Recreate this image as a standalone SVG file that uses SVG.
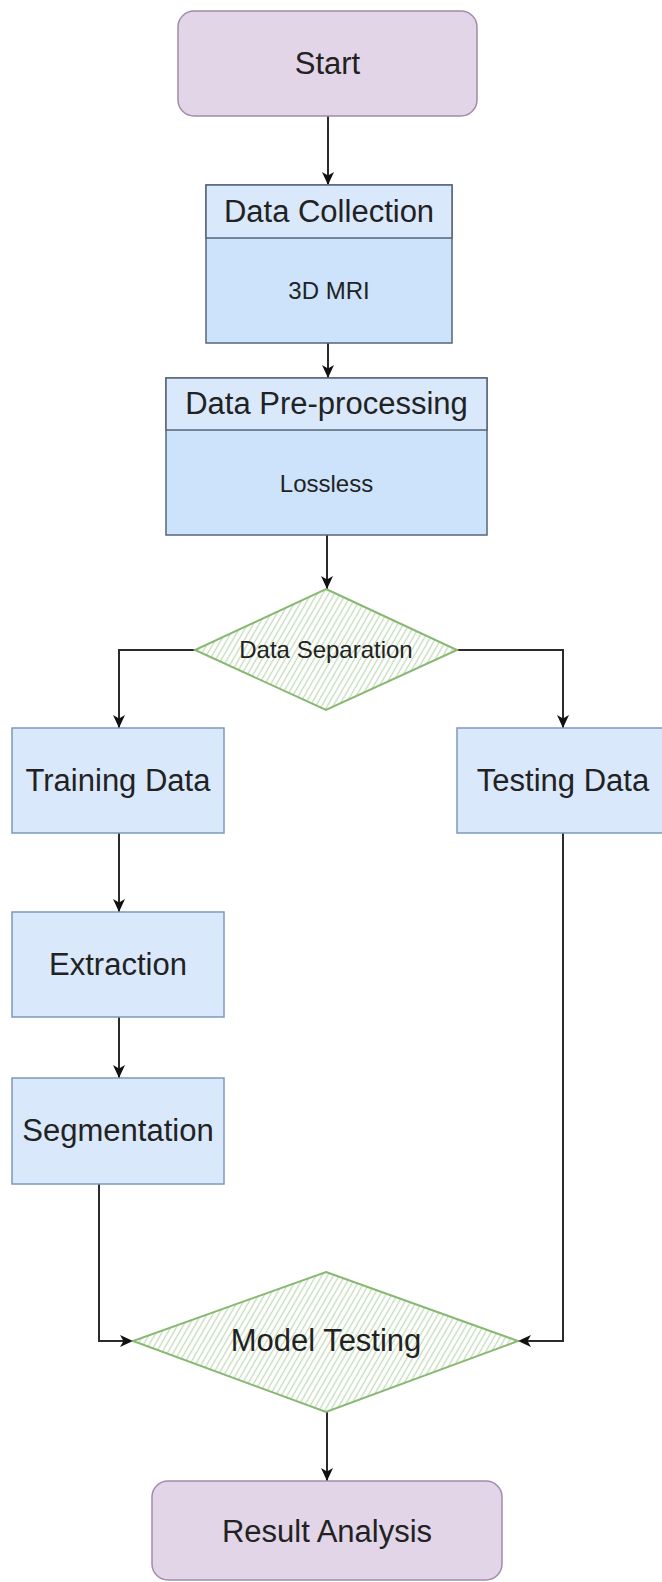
<svg xmlns="http://www.w3.org/2000/svg" width="662" height="1582" viewBox="0 0 662 1582">
  <style>
    .lbl { font-family: "Liberation Sans", Arial, Helvetica, sans-serif; fill: #222222; text-anchor: middle; }
    .big { font-size: 31px; }
    .small { font-size: 24px; }
    .term { fill: #e1d5e7; stroke: #a08cab; stroke-width: 1.5; }
    .proc { fill: #dae8fc; stroke: #7f98bb; stroke-width: 1.5; }
    .head { fill: #dae8fc; stroke: #55657a; stroke-width: 1.5; }
    .body { fill: #cde2fb; stroke: #55657a; stroke-width: 1.5; }
    .dec { fill: url(#hatch); stroke: #88b872; stroke-width: 2; }
    .edge { fill: none; stroke: #2b2b2b; stroke-width: 2; }
  </style>
  <defs>
    <pattern id="hatch" patternUnits="userSpaceOnUse" width="5" height="5" patternTransform="rotate(30)">
      <rect width="5" height="5" fill="#ffffff"/>
      <line x1="1.5" y1="0" x2="1.5" y2="5" stroke="#c3dcba" stroke-width="1.3"/>
    </pattern>
    <marker id="arrow" markerUnits="userSpaceOnUse" markerWidth="14" markerHeight="14" viewBox="0 0 14 14" refX="13" refY="7" orient="auto">
      <path d="M0,1 L13,7 L0,13 L3.5,7 Z" fill="#111111"/>
    </marker>
  </defs>

  <rect width="662" height="1582" fill="#ffffff"/>

  <!-- connectors -->
  <g id="connectors">
    <path class="edge" d="M328,116 L328,185" marker-end="url(#arrow)"/>
    <path class="edge" d="M328,343 L328,378" marker-end="url(#arrow)"/>
    <path class="edge" d="M327,535 L327,589" marker-end="url(#arrow)"/>
    <path class="edge" d="M195,650 L119,650 L119,728" marker-end="url(#arrow)"/>
    <path class="edge" d="M457,650 L563,650 L563,728" marker-end="url(#arrow)"/>
    <path class="edge" d="M119,833 L119,912" marker-end="url(#arrow)"/>
    <path class="edge" d="M119,1017 L119,1078" marker-end="url(#arrow)"/>
    <path class="edge" d="M99,1184 L99,1341 L133,1341" marker-end="url(#arrow)"/>
    <path class="edge" d="M563,833 L563,1341 L518,1341" marker-end="url(#arrow)"/>
    <path class="edge" d="M327,1412 L327,1481" marker-end="url(#arrow)"/>
  </g>

  <!-- start terminal -->
  <g id="start">
    <rect class="term" x="178" y="11" width="299" height="105" rx="16" ry="16"/>
    <text class="lbl big" x="327.5" y="74">Start</text>
  </g>

  <!-- data collection container -->
  <g id="data-collection">
    <rect class="body" x="206" y="185" width="246" height="158"/>
    <rect class="head" x="206" y="185" width="246" height="53"/>
    <text class="lbl big" x="329" y="222">Data Collection</text>
    <text class="lbl small" x="329" y="299">3D MRI</text>
  </g>

  <!-- pre-processing container -->
  <g id="data-preprocessing">
    <rect class="body" x="166" y="378" width="321" height="157"/>
    <rect class="head" x="166" y="378" width="321" height="52"/>
    <text class="lbl big" x="326.5" y="414">Data Pre-processing</text>
    <text class="lbl small" x="326.5" y="492">Lossless</text>
  </g>

  <!-- split decision -->
  <g id="data-separation">
    <polygon class="dec" points="326,589 457,650 326,710 195,650"/>
    <text class="lbl small" x="326" y="658">Data Separation</text>
  </g>

  <g id="training-data">
    <rect class="proc" x="12" y="728" width="212" height="105"/>
    <text class="lbl big" x="118" y="791">Training Data</text>
  </g>

  <g id="testing-data">
    <rect class="proc" x="457" y="728" width="212" height="105"/>
    <text class="lbl big" x="563" y="791">Testing Data</text>
  </g>

  <g id="extraction">
    <rect class="proc" x="12" y="912" width="212" height="105"/>
    <text class="lbl big" x="118" y="975">Extraction</text>
  </g>

  <g id="segmentation">
    <rect class="proc" x="12" y="1078" width="212" height="106"/>
    <text class="lbl big" x="118" y="1141">Segmentation</text>
  </g>

  <!-- evaluation decision -->
  <g id="model-testing">
    <polygon class="dec" points="326,1272 518,1341 326,1412 133,1341"/>
    <text class="lbl big" x="326" y="1351">Model Testing</text>
  </g>

  <!-- end terminal -->
  <g id="result-analysis">
    <rect class="term" x="152" y="1481" width="350" height="99" rx="16" ry="16"/>
    <text class="lbl big" x="327" y="1542">Result Analysis</text>
  </g>
</svg>
